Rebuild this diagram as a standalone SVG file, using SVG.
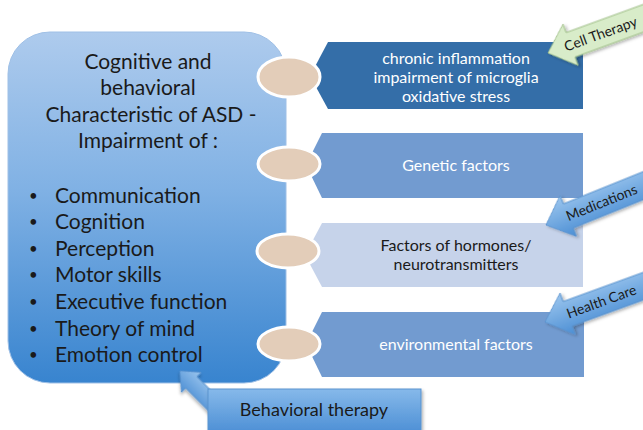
<svg xmlns="http://www.w3.org/2000/svg" width="643" height="430" viewBox="0 0 643 430">
  <defs>
    <linearGradient id="gMain" x1="0" y1="0" x2="0" y2="1">
      <stop offset="0" stop-color="#aecbed"/>
      <stop offset="0.45" stop-color="#80b1e4"/>
      <stop offset="1" stop-color="#3884cf"/>
    </linearGradient>
    <linearGradient id="gBlueArrow" x1="0" y1="0" x2="0" y2="1">
      <stop offset="0" stop-color="#9cc6ee"/>
      <stop offset="1" stop-color="#4b8ed4"/>
    </linearGradient>
    <linearGradient id="gBox" x1="0" y1="0" x2="0" y2="1">
      <stop offset="0" stop-color="#86b9ea"/>
      <stop offset="1" stop-color="#4a8dd4"/>
    </linearGradient>
    <filter id="shadow" x="-20%" y="-20%" width="140%" height="140%">
      <feDropShadow dx="1.5" dy="2" stdDeviation="1.5" flood-color="#000" flood-opacity="0.3"/>
    </filter>
    <path id="arrowShape" d="M0,0 L24,-22 L24,-13 L125,-13 L125,13 L24,13 L24,22 Z"/>
  </defs>
  <style>
    text { font-family: "Lato", "Liberation Sans", sans-serif; }
    .main { font-size: 21px; fill: #1a1a1a; text-anchor: middle; }
    .bullet { font-size: 21px; fill: #1a1a1a; }
    .dot { font-size: 15px; fill: #1a1a1a; }
    .factor { font-size: 16px; text-anchor: middle; }
    .light { fill: #ffffff; }
    .dark { fill: #1a1a1a; }
    .tag { font-size: 14px; fill: #1a1a1a; text-anchor: middle; }
    .joint { fill: #e3cdb9; stroke: #ffffff; stroke-width: 3; }
    .blueArrow { fill: url(#gBlueArrow); stroke: #5a93cf; stroke-width: 1; filter: url(#shadow); }
  </style>

  <!-- central characteristics panel -->
  <g id="asd-characteristics">
    <rect x="8" y="32" width="278" height="351" rx="42" ry="42" fill="url(#gMain)" stroke="#9fc0e6" stroke-width="1"/>
    <text class="main" x="148" y="69">Cognitive and</text>
    <text class="main" x="148" y="95">behavioral</text>
    <text class="main" x="151" y="122">Characteristic of ASD -</text>
    <text class="main" x="148" y="148">Impairment of :</text>
    <g class="dot">
      <text x="29" y="201">•</text>
      <text x="29" y="227">•</text>
      <text x="29" y="254">•</text>
      <text x="29" y="280">•</text>
      <text x="29" y="307">•</text>
      <text x="29" y="334">•</text>
      <text x="29" y="360">•</text>
    </g>
    <g class="bullet">
      <text x="55" y="203">Communication</text>
      <text x="55" y="229">Cognition</text>
      <text x="55" y="256">Perception</text>
      <text x="55" y="282">Motor skills</text>
      <text x="55" y="309">Executive function</text>
      <text x="55" y="336">Theory of mind</text>
      <text x="55" y="362">Emotion control</text>
    </g>
  </g>

  <!-- factor boxes -->
  <g id="factor-inflammation">
    <polygon points="310,76 328,42 583,42 583,109 328,109" fill="#346ea8"/>
    <text class="factor light" x="456" y="64">chronic inflammation</text>
    <text class="factor light" x="456" y="83">impairment of microglia</text>
    <text class="factor light" x="456" y="102">oxidative stress</text>
  </g>
  <g id="factor-genetic">
    <polygon points="306,165 322,133 583,133 583,198 322,198" fill="#729bd0"/>
    <text class="factor light" x="456" y="171">Genetic factors</text>
  </g>
  <g id="factor-hormones">
    <polygon points="305,255 322,223 583,223 583,287 322,287" fill="#c6d3ea"/>
    <text class="factor dark" x="456" y="251">Factors of hormones/</text>
    <text class="factor dark" x="456" y="270">neurotransmitters</text>
  </g>
  <g id="factor-environmental">
    <polygon points="306,344 322,312 584,312 584,377 322,377" fill="#729bd0"/>
    <text class="factor light" x="456" y="350">environmental factors</text>
  </g>

  <!-- joints linking the panel to each factor -->
  <g id="connectors">
    <ellipse class="joint" cx="289" cy="77" rx="31" ry="20"/>
    <ellipse class="joint" cx="289" cy="164" rx="31" ry="17"/>
    <ellipse class="joint" cx="288" cy="251" rx="31" ry="17"/>
    <ellipse class="joint" cx="289" cy="344" rx="31" ry="17"/>
  </g>

  <!-- intervention arrows -->
  <g id="cell-therapy" transform="translate(548,53) rotate(-20)">
    <use href="#arrowShape" fill="#d8ecc9" stroke="#9fbf87" stroke-width="1" filter="url(#shadow)"/>
    <text class="tag" x="56" y="5" font-size="13">Cell Therapy</text>
  </g>
  <g id="medications" transform="translate(546,225) rotate(-22)">
    <use href="#arrowShape" class="blueArrow"/>
    <text class="tag" x="60" y="5">Medications</text>
  </g>
  <g id="health-care" transform="translate(545,322) rotate(-20)">
    <use href="#arrowShape" class="blueArrow"/>
    <text class="tag" x="60" y="5">Health Care</text>
  </g>

  <g id="behavioral-therapy">
    <path d="M0,0 L16,-14 L16,-8 L72,-8 L72,8 L16,8 L16,14 Z" transform="translate(180,371) rotate(45)" class="blueArrow"/>
    <rect x="208" y="389" width="213" height="46" fill="url(#gBox)" stroke="#5a93cf" stroke-width="1" filter="url(#shadow)"/>
    <text x="314" y="416" font-size="18" fill="#1a1a1a" text-anchor="middle">Behavioral therapy</text>
  </g>
</svg>
